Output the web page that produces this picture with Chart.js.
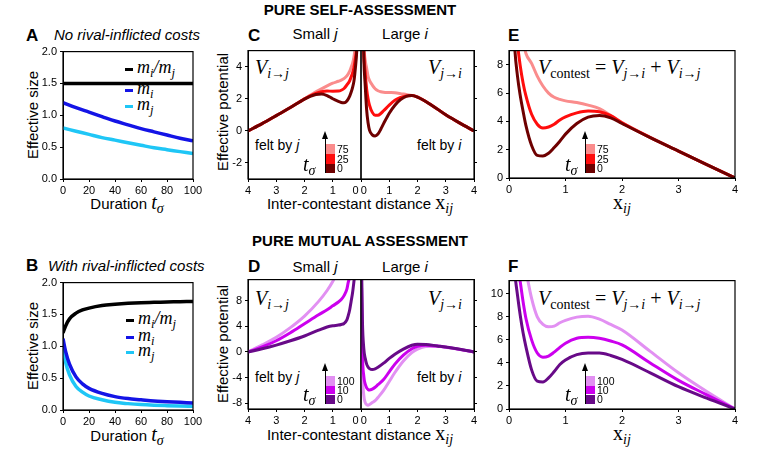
<!DOCTYPE html>
<html>
<head>
<meta charset="utf-8">
<script src="https://cdn.jsdelivr.net/npm/chart.js@4.4.1/dist/chart.umd.min.js"></script>
<style>
  body { margin:0; width:768px; height:449px; background:#fff; position:relative; overflow:hidden;
         font-family:"Liberation Sans", Arial, sans-serif; color:#000; }
  canvas { position:absolute; }
  .t { position:absolute; white-space:nowrap; line-height:1; }
  .c { transform:translate(-50%,-50%); }
  .l { transform:translate(0,-50%); }
  .rot { transform:translate(-50%,-50%) rotate(-90deg); }
  .hd { font-weight:bold; font-size:15px; }
  .let { font-weight:bold; font-size:17px; }
  .ttl { font-style:italic; font-size:15px; }
  .ax { font-size:15px; }
  .fb { font-size:14px; }
  .m { font-family:"Liberation Serif","DejaVu Serif",serif; font-style:italic; }
  .r { font-style:normal; }
  .s { font-size:70%; vertical-align:-0.3em; line-height:0; }
  .cb { font-size:10.5px; }
  .box, .dash { position:absolute; }
</style>
</head>
<body>

<div class="t c hd" style="left:360px;top:9px">PURE SELF-ASSESSMENT</div>
<div class="t c hd" style="left:360px;top:240px">PURE MUTUAL ASSESSMENT</div>

<div class="t l let" style="left:26px;top:35px">A</div>
<div class="t l ttl" style="left:54px;top:34px">No rival-inflicted costs</div>
<div class="t l let" style="left:26px;top:265px">B</div>
<div class="t l ttl" style="left:48px;top:265px">With rival-inflicted costs</div>
<div class="t l let" style="left:248px;top:35px">C</div>
<div class="t l let" style="left:248px;top:266px">D</div>
<div class="t l let" style="left:508px;top:35px">E</div>
<div class="t l let" style="left:508px;top:266px">F</div>

<div class="t c ax" style="left:315px;top:33px">Small <i>j</i></div>
<div class="t c ax" style="left:405px;top:33px">Large <i>i</i></div>
<div class="t c ax" style="left:315px;top:266px">Small <i>j</i></div>
<div class="t c ax" style="left:405px;top:266px">Large <i>i</i></div>

<div class="t rot ax" style="left:32px;top:115px">Effective size</div>
<div class="t rot ax" style="left:32px;top:346px">Effective size</div>
<div class="t rot ax" style="left:222px;top:112px">Effective potential</div>
<div class="t rot ax" style="left:222px;top:344px">Effective potential</div>

<div class="t c ax" style="left:127px;top:202px">Duration <span class="m" style="font-size:20px">t<span class="s">σ</span></span></div>
<div class="t c ax" style="left:127px;top:434px">Duration <span class="m" style="font-size:20px">t<span class="s">σ</span></span></div>
<div class="t c ax" style="left:360px;top:202px">Inter-contestant distance <span class="m r" style="font-size:20px">x<span class="s m">ij</span></span></div>
<div class="t c ax" style="left:360px;top:433px">Inter-contestant distance <span class="m r" style="font-size:20px">x<span class="s m">ij</span></span></div>
<div class="t c m r" style="left:622px;top:202px;font-size:20px">x<span class="s m">ij</span></div>
<div class="t c m r" style="left:622px;top:433px;font-size:20px">x<span class="s m">ij</span></div>

<!-- legends A / B -->
<div class="dash" style="left:125px;top:68px;width:8px;height:3px;background:#000"></div>
<div class="dash" style="left:125px;top:89px;width:8px;height:3px;background:#1414e6"></div>
<div class="dash" style="left:125px;top:105px;width:8px;height:3px;background:#1fc6f6"></div>
<div class="t l m" style="left:137px;top:67px;font-size:18px">m<span class="s">i</span>/m<span class="s">j</span></div>
<div class="t l m" style="left:137px;top:88px;font-size:18px">m<span class="s">i</span></div>
<div class="t l m" style="left:137px;top:104px;font-size:18px">m<span class="s">j</span></div>
<div class="dash" style="left:126px;top:319px;width:8px;height:3px;background:#000"></div>
<div class="dash" style="left:126px;top:336px;width:8px;height:3px;background:#1414e6"></div>
<div class="dash" style="left:126px;top:351px;width:8px;height:3px;background:#1fc6f6"></div>
<div class="t l m" style="left:138px;top:318px;font-size:18px">m<span class="s">i</span>/m<span class="s">j</span></div>
<div class="t l m" style="left:138px;top:335px;font-size:18px">m<span class="s">i</span></div>
<div class="t l m" style="left:138px;top:350px;font-size:18px">m<span class="s">j</span></div>

<!-- potential labels -->
<div class="t l m" style="left:255px;top:67px;font-size:20px">V<span class="s">i→j</span></div>
<div class="t l m" style="left:428px;top:67px;font-size:20px">V<span class="s">j→i</span></div>
<div class="t l m" style="left:255px;top:298px;font-size:20px">V<span class="s">i→j</span></div>
<div class="t l m" style="left:428px;top:298px;font-size:20px">V<span class="s">j→i</span></div>
<div class="t l m" style="left:538px;top:67px;font-size:20px">V<span class="s r">contest</span> <span class="r">=</span> V<span class="s">j→i</span> <span class="r">+</span> V<span class="s">i→j</span></div>
<div class="t l m" style="left:538px;top:298px;font-size:20px">V<span class="s r">contest</span> <span class="r">=</span> V<span class="s">j→i</span> <span class="r">+</span> V<span class="s">i→j</span></div>

<div class="t l fb" style="left:255px;top:145px">felt by <i>j</i></div>
<div class="t l fb" style="left:417px;top:145px">felt by <i>i</i></div>
<div class="t l fb" style="left:255px;top:377px">felt by <i>j</i></div>
<div class="t l fb" style="left:417px;top:377px">felt by <i>i</i></div>

<script>
const SANS = '"Liberation Sans", Arial, sans-serif';

// A: no rival-inflicted costs
const durA = [0, 10, 20, 30, 40, 50, 60, 70, 80, 90, 100];
const ratioA = [1.5, 1.5, 1.5, 1.5, 1.5, 1.5, 1.5, 1.5, 1.5, 1.5, 1.5];
const miA = [1.2, 1.12, 1.05, 0.98, 0.91, 0.85, 0.79, 0.74, 0.69, 0.64, 0.6];
const mjA = [0.8, 0.75, 0.70, 0.65, 0.61, 0.57, 0.53, 0.49, 0.46, 0.43, 0.4];

// B: with rival-inflicted costs
const durB = [0, 2, 5, 10, 15, 20, 30, 40, 50, 60, 70, 80, 90, 100];
const ratioB = [1.21, 1.32, 1.43, 1.52, 1.57, 1.6, 1.64, 1.66, 1.675, 1.685, 1.69, 1.695, 1.7, 1.705];
const miB = [1.12, 0.92, 0.72, 0.52, 0.41, 0.34, 0.26, 0.21, 0.18, 0.16, 0.14, 0.13, 0.12, 0.11];
const mjB = [1.0, 0.75, 0.55, 0.37, 0.28, 0.22, 0.16, 0.12, 0.1, 0.085, 0.075, 0.068, 0.062, 0.057];

// C: self-assessment, felt by j (left) and by i (right); t = 0, 25, 75
const xCj = [0.1, 0.15, 0.2, 0.25, 0.3, 0.35, 0.4, 0.5, 0.6, 0.7, 0.8, 1.0, 1.2, 1.4, 1.6, 1.8, 2.0, 2.5, 3.0, 3.5, 4.0];
const vCj0 = [7.5, 5.0, 3.9, 3.1, 2.7, 2.4, 2.17, 1.86, 1.75, 1.77, 1.84, 2.0, 2.2, 2.3, 2.27, 2.15, 1.98, 1.45, 0.95, 0.45, 0];
const vCj25 = [7.8, 5.3, 4.5, 3.95, 3.6, 3.35, 3.12, 2.86, 2.64, 2.53, 2.48, 2.47, 2.48, 2.44, 2.34, 2.18, 1.99, 1.45, 0.95, 0.45, 0];
const vCj75 = [8.5, 6.2, 5.3, 4.6, 4.2, 3.95, 3.72, 3.42, 3.26, 3.16, 3.09, 2.97, 2.8, 2.62, 2.43, 2.22, 2.0, 1.46, 0.95, 0.45, 0];
const xCi = [0.05, 0.1, 0.15, 0.2, 0.25, 0.3, 0.4, 0.5, 0.6, 0.7, 0.8, 1.0, 1.2, 1.4, 1.6, 1.8, 2.0, 2.5, 3.0, 3.5, 4.0];
const vCi0 = [9, 4.5, 2.8, 1.3, 0.5, 0.05, -0.25, -0.32, -0.2, 0.1, 0.45, 1.1, 1.6, 1.95, 2.15, 2.2, 2.1, 1.6, 1.0, 0.48, 0];
const vCi25 = [9.5, 5, 3.6, 2.6, 2.0, 1.6, 1.15, 0.97, 0.97, 1.08, 1.25, 1.6, 1.9, 2.08, 2.18, 2.2, 2.1, 1.6, 1.0, 0.48, 0];
const vCi75 = [10, 5.5, 4.4, 3.9, 3.4, 3.15, 2.85, 2.62, 2.5, 2.44, 2.41, 2.39, 2.37, 2.32, 2.26, 2.21, 2.12, 1.6, 1.0, 0.48, 0];

// E / F: contest potential
const xE = [0.05, 0.1, 0.15, 0.2, 0.25, 0.3, 0.4, 0.5, 0.6, 0.7, 0.8, 0.9, 1.0, 1.2, 1.4, 1.6, 1.8, 2.0, 2.5, 3.0, 3.5, 4.0];
const vE0 = [14, 9.3, 7.2, 5.8, 4.7, 3.7, 2.3, 1.6, 1.56, 1.75, 2.15, 2.6, 3.1, 3.85, 4.3, 4.42, 4.25, 3.85, 2.85, 1.9, 0.95, 0];
const vE25 = [16, 12, 9.5, 7.9, 6.7, 5.8, 4.5, 3.8, 3.53, 3.6, 3.8, 4.1, 4.32, 4.6, 4.73, 4.68, 4.4, 3.9, 2.86, 1.9, 0.95, 0];
const vE75 = [20, 16, 13, 11, 9.7, 8.8, 8.1, 7.2, 6.5, 6.0, 5.7, 5.55, 5.45, 5.33, 5.15, 4.9, 4.42, 3.92, 2.87, 1.9, 0.95, 0];
const vF0 = [16, 12, 9.9, 8.1, 6.6, 5.4, 3.4, 2.42, 2.35, 2.7, 3.25, 3.86, 4.25, 4.72, 4.86, 4.86, 4.65, 4.3, 3.14, 1.94, 0.94, 0];
const vF10 = [20, 15, 12.5, 11, 9.3, 7.86, 6.0, 4.86, 4.5, 4.6, 4.94, 5.35, 5.71, 6.14, 6.23, 6.14, 5.9, 5.57, 4.0, 2.49, 1.23, 0];
const vF100 = [24, 20, 17, 14.5, 13.2, 12, 9.6, 8.0, 7.35, 7.15, 7.2, 7.49, 7.7, 7.98, 8.06, 7.8, 7.34, 6.86, 5.0, 3.14, 1.51, 0];

// D: mutual assessment; t = 0, 10, 100
const xDj = [0.1, 0.2, 0.25, 0.3, 0.35, 0.4, 0.45, 0.5, 0.6, 0.7, 0.8, 1.0, 1.2, 1.5, 2.0, 2.5, 3.0, 3.5, 4.0];
const vDj0 = [22, 13, 11, 9.2, 7.9, 6.6, 5.7, 5.0, 4.45, 4.3, 4.2, 4.1, 3.9, 3.4, 2.5, 1.75, 1.08, 0.5, 0];
const vDj10 = [30, 20, 17, 15, 13.5, 11.7, 10.9, 9.8, 8.8, 8.2, 7.8, 7.2, 6.6, 5.8, 4.4, 3.0, 1.75, 0.8, 0];
const vDj100 = [45, 35, 32, 29, 27, 25, 23.5, 22, 16, 14, 12.8, 11.0, 9.6, 7.9, 5.6, 3.8, 2.3, 1.1, 0];
const xDi = [0.02, 0.05, 0.1, 0.15, 0.2, 0.25, 0.3, 0.4, 0.5, 0.6, 0.8, 1.0, 1.2, 1.5, 1.8, 2.0, 2.3, 2.7, 3.0, 3.5, 4.0];
const vDi0 = [14, 5, 0.5, -1.0, -1.9, -2.35, -2.6, -2.75, -2.65, -2.4, -1.75, -1.0, -0.35, 0.45, 1.05, 1.22, 1.18, 0.95, 0.78, 0.42, 0];
const vDi10 = [10, 0, -3.8, -5.0, -5.6, -5.85, -5.95, -5.8, -5.5, -5.1, -4.3, -3.1, -1.9, -0.5, 0.5, 0.9, 1.05, 0.92, 0.76, 0.41, 0];
const vDi100 = [6, -3, -6.8, -7.9, -8.2, -8.3, -8.2, -7.9, -7.6, -7.1, -6.0, -4.6, -3.2, -1.4, -0.1, 0.45, 0.85, 0.88, 0.74, 0.4, 0];

// ticks
const tDur = [0, 20, 40, 60, 80, 100];
const tSize = [0, 0.5, 1, 1.5, 2];
const tDist = [0, 1, 2, 3, 4];
const tC = [-2, 0, 2, 4];
const tD = [-8, -4, 0, 4, 8];
const tE = [0, 2, 4, 6, 8];
const tF = [0, 2, 4, 6, 8, 10];

const RED = ['#6e0000', '#ff0d0d', '#fa8c8c'];
const PUR = ['#680a88', '#cc00ee', '#e290f2'];

const frame = {
  id: 'frame',
  afterDraw(c) {
    const a = c.chartArea, g = c.ctx;
    g.save(); g.strokeStyle = '#000'; g.lineWidth = 1.2;
    g.strokeRect(a.left, a.top, a.right - a.left, a.bottom - a.top);
    g.restore();
  }
};

// first dataset ends up on top in Chart.js
function line(xs, ys, color, w) {
  return { data: xs.map((x, i) => ({ x: x, y: ys[i] })), borderColor: color, borderWidth: w || 3,
           pointRadius: 0, cubicInterpolationMode: 'monotone', clip: 0, fill: false };
}

function panel(o) {
  const yW = 40, xH = 24, pT = 8, pS = 14, right = !!o.yRight;
  const w = o.R - o.L + yW + pS, h = o.B - o.T + pT + xH;
  const cv = document.createElement('canvas');
  cv.width = w; cv.height = h;
  cv.style.left = (right ? o.L - pS : o.L - yW) + 'px';
  cv.style.top = (o.T - pT) + 'px';
  cv.style.width = w + 'px'; cv.style.height = h + 'px';
  document.body.appendChild(cv);
  const font = { family: SANS, size: 11 };
  const grid = { drawOnChartArea: false, tickLength: 3, color: '#000', lineWidth: 1 };
  const border = { color: '#000', width: 1 };
  new Chart(cv, {
    type: 'line',
    data: { datasets: o.sets },
    options: {
      responsive: false, animation: false, events: [],
      layout: { padding: { top: pT, left: right ? pS : 0, right: right ? 0 : pS, bottom: 0 } },
      plugins: { legend: { display: false }, tooltip: { enabled: false } },
      scales: {
        x: { type: 'linear', min: o.x[0], max: o.x[1], reverse: !!o.rev,
             afterBuildTicks: s => { s.ticks = o.xt.map(v => ({ value: v })); },
             afterFit: s => { s.height = xH; },
             ticks: { callback: o.xf || (v => String(v)), color: '#000', font, padding: 2, maxRotation: 0, autoSkip: false },
             grid, border },
        y: { position: right ? 'right' : 'left', min: o.y[0], max: o.y[1],
             afterBuildTicks: s => { s.ticks = o.yt.map(v => ({ value: v })); },
             afterFit: s => { s.width = yW; },
             ticks: { callback: right ? (() => '') : (o.yf || (v => String(v))), color: '#000', font, padding: 3, autoSkip: false },
             grid, border }
      }
    },
    plugins: [frame]
  });
}

// colour bars for t_sigma
function cbar(x, ys, cols, labels, tx, ty) {
  const add = (css, html, cls) => {
    const d = document.createElement('div');
    d.className = cls || 'box'; d.style.cssText = css;
    if (html) d.innerHTML = html;
    document.body.appendChild(d);
  };
  add(`left:${x - 1.5}px;top:${ys[0] - 8}px;width:1.6px;height:${ys[3] - ys[0] + 8}px;background:#000`);
  add(`left:${x - 4.3}px;top:${ys[0] - 13}px;width:0;height:0;border-left:3.5px solid transparent;border-right:3.5px solid transparent;border-bottom:8px solid #000`);
  for (let k = 0; k < 3; k++) {
    add(`left:${x}px;top:${ys[k]}px;width:9px;height:${ys[k + 1] - ys[k]}px;background:${cols[2 - k]}`);
    add(`left:${x + 11}px;top:${(ys[k] + ys[k + 1]) / 2}px`, labels[k], 't l cb');
  }
  add(`left:${tx}px;top:${ty}px;font-size:20px`, 't<span class="s">σ</span>', 't l m');
}

panel({ L: 63, R: 193, T: 50, B: 179, x: [0, 100], xt: tDur, y: [0, 2], yt: tSize, yf: v => v.toFixed(1),
  sets: [line(durA, ratioA, '#000', 3.5), line(durA, miA, '#1414e6', 3.5), line(durA, mjA, '#1fc6f6', 3.5)] });
panel({ L: 63, R: 193, T: 281, B: 410, x: [0, 100], xt: tDur, y: [0, 2], yt: tSize, yf: v => v.toFixed(1),
  sets: [line(durB, ratioB, '#000', 3.5), line(durB, miB, '#1414e6', 3.5), line(durB, mjB, '#1fc6f6', 3.5)] });

panel({ L: 248, R: 361, T: 49, B: 179, x: [0, 4], rev: true, xt: tDist, xf: v => v === 0 ? '0\u2003' : String(v),
  y: [-3, 5], yt: tC,
  sets: [line(xCj, vCj0, RED[0]), line(xCj, vCj25, RED[1]), line(xCj, vCj75, RED[2])] });
panel({ L: 361, R: 474, T: 49, B: 179, x: [0, 4], xt: tDist, xf: v => v === 0 ? '\u20020' : String(v),
  y: [-3, 5], yt: tC, yRight: true,
  sets: [line(xCi, vCi0, RED[0]), line(xCi, vCi25, RED[1]), line(xCi, vCi75, RED[2])] });

panel({ L: 509, R: 735, T: 49, B: 178, x: [0, 4], xt: tDist, y: [0, 9], yt: tE,
  sets: [line(xE, vE0, RED[0]), line(xE, vE25, RED[1]), line(xE, vE75, RED[2])] });

panel({ L: 248, R: 361, T: 278, B: 409, x: [0, 4], rev: true, xt: tDist, xf: v => v === 0 ? '0\u2003' : String(v),
  y: [-8.9, 11.3], yt: tD,
  sets: [line(xDj, vDj0, PUR[0]), line(xDj, vDj10, PUR[1]), line(xDj, vDj100, PUR[2])] });
panel({ L: 361, R: 474, T: 278, B: 409, x: [0, 4], xt: tDist, xf: v => v === 0 ? '\u20020' : String(v),
  y: [-8.9, 11.3], yt: tD, yRight: true,
  sets: [line(xDi, vDi0, PUR[0]), line(xDi, vDi10, PUR[1]), line(xDi, vDi100, PUR[2])] });

panel({ L: 509, R: 735, T: 279, B: 409, x: [0, 4], xt: tDist, y: [0, 11.15], yt: tF,
  sets: [line(xE, vF0, PUR[0]), line(xE, vF10, PUR[1]), line(xE, vF100, PUR[2])] });

cbar(326, [144, 154, 163.5, 173], RED, ['75', '25', '0'], 303, 164);
cbar(586, [144, 154, 163.5, 173], RED, ['75', '25', '0'], 565, 164);
cbar(326, [375.7, 385.7, 394.5, 404], PUR, ['100', '10', '0'], 303, 394);
cbar(586, [375.7, 385.7, 394.5, 404], PUR, ['100', '10', '0'], 565, 394);
</script>
</body>
</html>
